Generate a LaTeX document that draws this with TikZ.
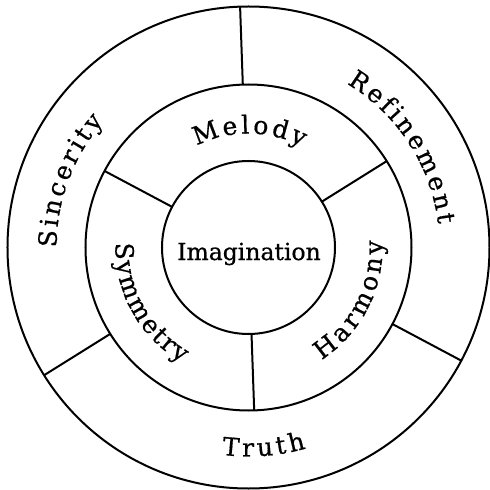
\documentclass[tikz,border=0pt]{standalone}
\usepackage{fontspec}
\setmainfont{DejaVu Serif}[FakeBold=0.6]
\usepackage{tikz}
\usetikzlibrary{decorations.text}
\newcommand\ringfont{\fontsize{25}{30}\selectfont}
\newcommand\hubfont{\fontsize{23.5}{28}\selectfont}

\begin{document}
\begin{tikzpicture}[x=1pt,y=1pt,
  ring/.style={line width=2pt},
  ringlabel/.style={decorate,decoration={text along path,text align={fit to path},text={|\ringfont|#1}}}]
\fill[white] (-248.5,-242.5) rectangle (241.5,247.5);
\useasboundingbox (-248.5,-242.5) rectangle (241.5,247.5);
\coordinate (hub) at (0,0);
\draw[ring] (hub) circle[radius=241];
\draw[ring] (hub) circle[radius=163];
\draw[ring] (hub) circle[radius=86.5];
\foreach \a in {92,212,332}{
  \draw[ring] (\a:163) -- (\a:241);
}
\foreach \a in {32,152,272}{
  \draw[ring] (\a:86.5) -- (\a:163);
}
\node[font=\hubfont,anchor=base] (imagination) at (0.5,-12.5) {Imagination};
\path[ringlabel=Melody] (117:114) arc[start angle=117,end angle=62,radius=114];
\path[ringlabel=Symmetry] (178:133) arc[start angle=178,end angle=240,radius=133];
\path[ringlabel=Harmony] (303:134) arc[start angle=303,end angle=363,radius=134];
\path[ringlabel=Refinement] (59:191) arc[start angle=59,end angle=7,radius=191];
\path[ringlabel=Sincerity] (180:192) arc[start angle=180,end angle=139,radius=192];
\path[ringlabel=Truth] (262.7:209) arc[start angle=262.7,end angle=286,radius=209];
\end{tikzpicture}
\end{document}
